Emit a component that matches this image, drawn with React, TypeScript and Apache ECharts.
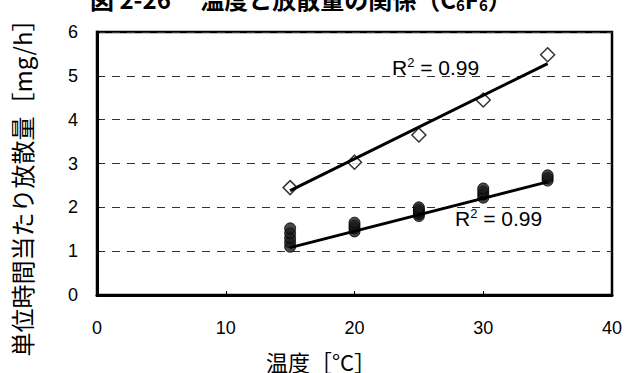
import React, { useEffect, useRef } from 'react';
import * as echarts from 'echarts';

// Axis ranges / ticks
const xMin = 0;
const xMax = 40;
const xStep = 10;
const yMin = 0;
const yMax = 6;
const yStep = 1;

// Open diamonds (upper group)
const upperTemps = [15, 20, 25, 30, 35];
const upperValues = [2.45, 3.03, 3.65, 4.45, 5.48];

// Filled markers (lower group, several runs per temperature)
const lowerTemps = [15, 15, 15, 15, 15, 20, 20, 20, 20, 25, 25, 25, 25, 25, 30, 30, 30, 30, 35, 35, 35];
const lowerValues = [1.1, 1.2, 1.3, 1.41, 1.52, 1.45, 1.52, 1.58, 1.65, 1.8, 1.85, 1.9, 1.95, 2.0, 2.22, 2.29, 2.36, 2.43, 2.61, 2.67, 2.73];

// Linear trend lines (end points)
const fitTemps = [15, 35];
const upperFit = [2.38, 5.28];
const lowerFit = [1.08, 2.58];

// Texts
const titleMain = '図 2-26　 温度と放散量の関係（C';
const titleSub = '6';
const titleMid = 'F';
const titleEnd = '）';
const xTitle = '温度［°C］';
const yTitle = '単位時間当たり放散量［mg/h］';
const r2Value = ' = 0.99';

const CJK = '"Noto Sans CJK JP", "Noto Sans", sans-serif';
const LATIN = '"Liberation Sans", Arial, sans-serif';

const zip = (xs: number[], ys: number[]) => xs.map((x, i) => [x, ys[i]]);

const r2Label = (left: number, top: number) => ({
  type: 'text',
  left,
  top,
  z: 20,
  style: {
    text: '{a|R}{s|2}{a|' + r2Value + '}',
    rich: {
      a: { fontFamily: LATIN, fontSize: 21, lineHeight: 23, fill: '#000' },
      s: { fontFamily: LATIN, fontSize: 13, lineHeight: 13, verticalAlign: 'top', fill: '#000' },
    },
  },
});

export default function App() {
  const ref = useRef<HTMLDivElement>(null);

  useEffect(() => {
    document.body.style.margin = '0';
    if (!ref.current) return;
    const chart = echarts.init(ref.current, undefined, { renderer: 'svg' });
    chart.setOption({
      animation: false,
      backgroundColor: '#fff',
      grid: {
        left: 97,
        right: 14,
        top: 32,
        bottom: 78,
        show: true,
        borderColor: '#000',
        borderWidth: 2.5,
        backgroundColor: 'transparent',
      },
      xAxis: {
        type: 'value',
        min: xMin,
        max: xMax,
        interval: xStep,
        axisLine: { show: true, onZero: false, lineStyle: { color: '#000', width: 3 } },
        axisTick: { show: true, inside: true, length: 4, lineStyle: { color: '#000', width: 1 } },
        axisLabel: { color: '#000', fontFamily: LATIN, fontSize: 18, margin: 24 },
        splitLine: { show: false },
      },
      yAxis: {
        type: 'value',
        min: yMin,
        max: yMax,
        interval: yStep,
        axisLine: { show: true, onZero: false, lineStyle: { color: '#000', width: 3 } },
        axisTick: { show: true, inside: true, length: 3, lineStyle: { color: '#000', width: 1 } },
        axisLabel: { color: '#000', fontFamily: LATIN, fontSize: 18, margin: 19 },
        splitLine: { show: true, lineStyle: { color: '#333', width: 1, type: [8, 7] } },
      },
      series: [
        {
          type: 'scatter',
          data: zip(upperTemps, upperValues),
          symbol: 'diamond',
          symbolSize: 14,
          itemStyle: { color: '#fff', borderColor: '#000', borderWidth: 1.5 },
          z: 3,
        },
        {
          type: 'scatter',
          data: zip(lowerTemps, lowerValues),
          symbol: 'circle',
          symbolSize: 11,
          itemStyle: { color: '#1c1c1c', borderColor: '#000', borderWidth: 1 },
          z: 3,
        },
        {
          type: 'line',
          data: zip(fitTemps, upperFit),
          showSymbol: false,
          lineStyle: { color: '#000', width: 3 },
          z: 5,
        },
        {
          type: 'line',
          data: zip(fitTemps, lowerFit),
          showSymbol: false,
          lineStyle: { color: '#000', width: 3 },
          z: 5,
        },
      ],
      graphic: [
        {
          type: 'text',
          left: 90,
          top: -14,
          z: 20,
          style: {
            text: '{a|' + titleMain + '}{s|' + titleSub + '}{a|' + titleMid + '}{s|' + titleSub + '}{a|' + titleEnd + '}',
            rich: {
              a: { fontFamily: CJK, fontSize: 24, fontWeight: 'bold', lineHeight: 28, fill: '#000' },
              s: { fontFamily: CJK, fontSize: 15, fontWeight: 'bold', lineHeight: 13, verticalAlign: 'bottom', fill: '#000' },
            },
          },
        },
        {
          type: 'text',
          x: 21,
          y: 182,
          rotation: Math.PI / 2,
          z: 20,
          style: {
            text: yTitle,
            fontFamily: CJK,
            fontSize: 24,
            fontWeight: 'normal',
            fill: '#000',
            align: 'center',
            verticalAlign: 'middle',
          },
        },
        {
          type: 'text',
          x: 321,
          y: 361,
          z: 20,
          style: {
            text: xTitle,
            fontFamily: CJK,
            fontSize: 22,
            fill: '#000',
            align: 'center',
            verticalAlign: 'middle',
          },
        },
        r2Label(392, 56),
        r2Label(455, 207),
      ],
    });
    return () => chart.dispose();
  }, []);

  return (
    <div
      ref={ref}
      style={{ position: 'absolute', left: 0, top: 0, width: 626, height: 373, background: '#fff' }}
    />
  );
}
